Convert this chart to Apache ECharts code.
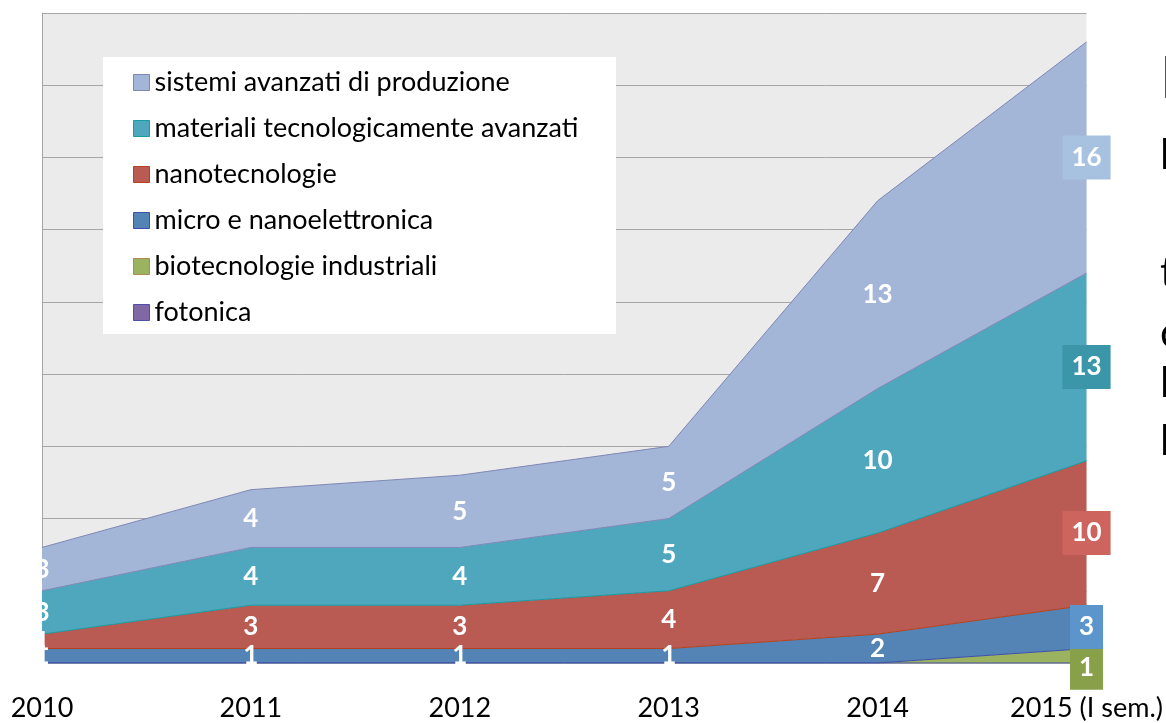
<!DOCTYPE html>
<html>
<head>
<meta charset="utf-8">
<script src="https://cdn.jsdelivr.net/npm/echarts@6/dist/echarts.min.js"></script>
<style>
  html, body { margin: 0; padding: 0; background: #fff; }
  #chart { width: 1166px; height: 723px; }
</style>
</head>
<body>
<div id="chart"></div>
<script>
// categories
const years = ['2010', '2011', '2012', '2013', '2014', '2015 (I sem.)']

// series values (stack order, bottom to top)
const fotonica = [0, 0, 0, 0, 0, 0]
const biotecnologie = [0, 0, 0, 0, 0, 1]
const microNano = [1, 1, 1, 1, 2, 3]
const nanotecnologie = [1, 3, 3, 4, 7, 10]
const materiali = [3, 4, 4, 5, 10, 13]
const sistemi = [3, 4, 5, 5, 13, 16]

const FONT = 'Lato, "Open Sans", sans-serif'

const seriesDefs = [
    { name: 'fotonica', data: fotonica, fill: '#8068A4', line: '#3D4FAA', border: '#4F4FA8', box: '#8068A4' },
    { name: 'biotecnologie industriali', data: biotecnologie, fill: '#9BB260', line: '#3D4FAA', border: '#B08A50', box: '#89A04A', extra: 12 },
    { name: 'micro e nanoelettronica', data: microNano, fill: '#5483B5', line: '#B5421C', border: '#3D4FAA', box: '#5B95CB' },
    { name: 'nanotecnologie', data: nanotecnologie, fill: '#B95A53', line: '#189BA0', border: '#B5421C', box: '#CD655E' },
    { name: 'materiali tecnologicamente avanzati', data: materiali, fill: '#4FA7BE', line: '#7F87B5', border: '#189BA0', box: '#3B96A9' },
    { name: 'sistemi avanzati di produzione', data: sistemi, fill: '#A3B6D7', line: '#7F87B5', border: '#7E86B5', box: '#A7C2E0' }
]

const chart = echarts.init(document.getElementById('chart'))

const baseOption = {
    animation: false,
    grid: {
        left: 42, right: 79, top: 13, bottom: 60,
        show: true, backgroundColor: '#EBEBEB', borderWidth: 0
    },
    xAxis: {
        type: 'category',
        boundaryGap: false,
        data: years,
        axisLine: { show: false },
        axisTick: { show: false },
        axisLabel: { color: '#000', fontSize: 27, fontFamily: FONT, margin: 32, interval: 0 }
    },
    yAxis: {
        type: 'value',
        min: 0, max: 45, interval: 5,
        axisLabel: { show: false },
        axisTick: { show: false },
        axisLine: { show: true, lineStyle: { color: '#A6A6A6', width: 1 } },
        splitLine: { lineStyle: { color: '#A6A6A6', width: 1 } }
    }
}

chart.setOption(baseOption)
// pixels per unit from the value axis
const unit = chart.convertToPixel({ yAxisIndex: 0 }, 0) - chart.convertToPixel({ yAxisIndex: 0 }, 1)

const buildData = (def) => {
    const last = def.data.length - 1
    return def.data.map((v, i) => {
        const label = {
            show: v > 0,
            offset: [0, v * unit / 2 + (i === last ? (def.extra || 0) : 0)]
        }
        if (i === last) {
            label.backgroundColor = def.box
            label.padding = [10, 9]
        }
        return { value: v, label: label }
    })
}

const series = seriesDefs.map(def => ({
    name: def.name,
    type: 'line',
    stack: 'total',
    symbol: 'circle',
    symbolSize: 0,
    showSymbol: true,
    data: buildData(def),
    itemStyle: { color: def.fill },
    lineStyle: { color: def.line, width: 1 },
    areaStyle: { color: def.fill, opacity: 1 },
    label: {
        position: 'inside',
        color: '#fff',
        fontSize: 26,
        fontWeight: 'bold',
        fontFamily: FONT,
        lineHeight: 24
    },
    emphasis: { disabled: true },
    z: 2
}))

const legendData = seriesDefs.slice().reverse().map(def => ({
    name: def.name,
    itemStyle: { color: def.fill, borderColor: def.border, borderWidth: 1 }
}))

// partial text from the slide, cut by the right edge
const sideText = [
    { t: 'I', y: 50, size: 58 },
    { t: 'l', y: 134, size: 42 },
    { t: 't', y: 252, size: 42 },
    { t: 'c', y: 312, size: 42 },
    { t: 'l', y: 362, size: 42 },
    { t: 'l', y: 420, size: 42 }
]

chart.setOption({
    legend: {
        orient: 'vertical',
        left: 133,
        top: 69,
        padding: 0,
        itemWidth: 16,
        itemHeight: 16,
        itemGap: 19,
        icon: 'rect',
        selectedMode: false,
        data: legendData,
        textStyle: { color: '#000', fontSize: 27, lineHeight: 27, fontFamily: FONT },
        z: 5
    },
    graphic: [
        {
            type: 'rect', left: 103, top: 57, z: 4,
            shape: { width: 513, height: 277 },
            style: { fill: '#fff' }
        }
    ].concat(sideText.map(s => ({
        type: 'text', left: 1160, top: s.y, z: 4,
        style: { text: s.t, fontSize: s.size, fontFamily: FONT, fill: '#000' }
    }))),
    series: series
})
</script>
</body>
</html>
